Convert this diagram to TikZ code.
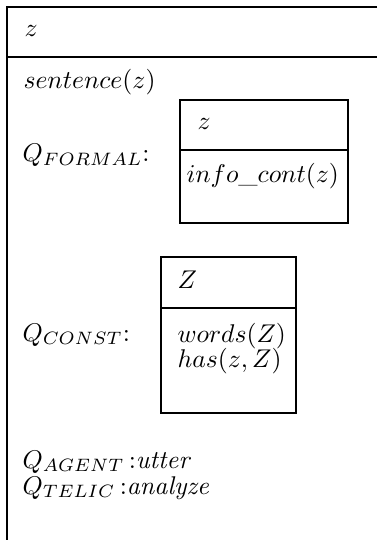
\documentclass[tikz,border=0pt]{standalone}
\usepackage{tikz}

\begin{document}
\begin{tikzpicture}[
  x=0.39pt, y=-0.39pt,
  frame/.style={draw=black, line width=1.1pt},
  subframe/.style={draw=black, line width=0.8pt},
  entry/.style={anchor=base west, inner sep=0pt}
]
  \useasboundingbox (0,0) rectangle (377,540);
  % outer structure
  \draw[frame] (377,7) -- (7,7) -- (7,540);
  \draw[frame] (7,57) -- (377,57);
  \node[entry] (head) at (24,37) {$z$};
  \node[entry] (sent) at (23,89) {$sentence(z)$};
  % formal quale
  \draw[subframe] (180,100) rectangle (348,223);
  \draw[subframe] (180,150) -- (348,150);
  \node[entry] (qformal) at (22,162) {$Q_{FORMAL}$:};
  \node[entry] (fhead) at (197,130) {$z$};
  \node[entry] (fbody) at (186,183) {$info\_cont(z)$};
  % constitutive quale
  \draw[subframe] (161,257) rectangle (296,413);
  \draw[subframe] (161,308) -- (296,308);
  \node[entry] (qconst) at (22,341) {$Q_{CONST}$:};
  \node[entry] (chead) at (177,288) {$Z$};
  \node[entry] (cbody) at (177,342) {$words(Z)$};
  \node[entry] (cbody2) at (177,367) {$has(z,Z)$};
  % agentive and telic
  \node[entry] (qagent) at (22,468) {$Q_{AGENT}$\,:\textit{utter}};
  \node[entry] (qtelic) at (22,494) {$Q_{TELIC}$\,:\textit{analyze}};
\end{tikzpicture}
\end{document}
